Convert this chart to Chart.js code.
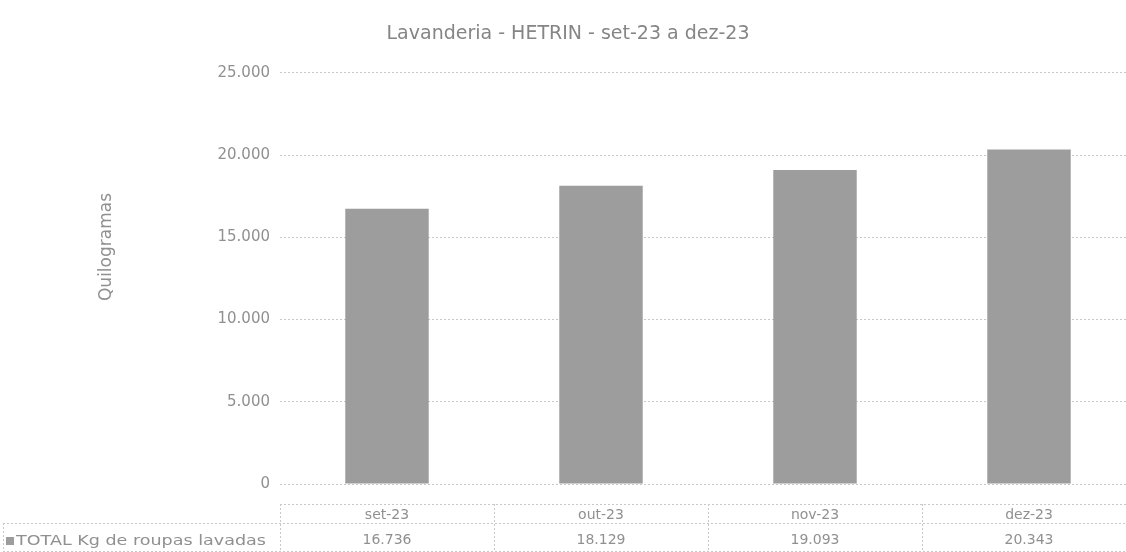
<!DOCTYPE html>
<html>
<head>
<meta charset="utf-8">
<script src="https://cdn.jsdelivr.net/npm/chart.js@4"></script>
<style>
  html, body { margin: 0; padding: 0; background: #fff; overflow: hidden; }
  #wrap { width: 1136px; height: 552px; }
</style>
</head>
<body>
<div id="wrap"><canvas id="laundryChart" width="1136" height="552"></canvas></div>
<script>
// dados do gráfico
const months = ['set-23', 'out-23', 'nov-23', 'dez-23'];
const kgWashed = [16736, 18129, 19093, 20343];
const seriesName = 'TOTAL Kg de roupas lavadas';
const yTicks = [0, 5000, 10000, 15000, 20000, 25000];

const textGray = '#909090';
const lineGray = '#c8c8c8';
const barGray = '#9d9d9d';

function fmt(v) {
    return v.toLocaleString('pt-BR');
}

// desenha a tabela de dados e o título do eixo Y
const dataTablePlugin = {
    id: 'dataTable',
    afterDraw(chart) {
        const ctx = chart.ctx;
        const x = chart.scales.x;
        const area = chart.chartArea;
        const catW = x.getPixelForValue(1) - x.getPixelForValue(0);
        const top = 504, mid = 523, bottom = 551;

        ctx.save();
        ctx.strokeStyle = lineGray;
        ctx.lineWidth = 1;
        ctx.setLineDash([2, 2]);

        ctx.beginPath();
        // linhas horizontais da tabela
        ctx.moveTo(area.left, top + 0.5); ctx.lineTo(area.right, top + 0.5);
        ctx.moveTo(3, mid + 0.5); ctx.lineTo(area.right, mid + 0.5);
        ctx.moveTo(3, bottom + 0.5); ctx.lineTo(area.right, bottom + 0.5);
        // linhas verticais
        for (let i = 0; i <= months.length; i++) {
            const px = Math.round(x.getPixelForValue(0) - catW / 2 + i * catW) + 0.5;
            ctx.moveTo(px, top); ctx.lineTo(px, bottom);
        }
        ctx.moveTo(3.5, mid); ctx.lineTo(3.5, bottom);
        ctx.stroke();
        ctx.setLineDash([]);

        // legenda da série
        ctx.fillStyle = barGray;
        ctx.fillRect(6, 537, 8, 8);
        ctx.fillStyle = textGray;
        ctx.font = '14px "DejaVu Sans", sans-serif';
        ctx.textBaseline = 'middle';
        ctx.textAlign = 'left';
        const w = ctx.measureText(seriesName).width;
        ctx.save();
        ctx.translate(16, 541);
        ctx.scale(250 / w, 1);
        ctx.fillText(seriesName, 0, 0);
        ctx.restore();

        // título do eixo Y
        ctx.font = '17px "DejaVu Sans", sans-serif';
        ctx.translate(107, 247);
        ctx.rotate(-Math.PI / 2);
        ctx.textAlign = 'center';
        ctx.fillText('Quilogramas', 0, 0);
        ctx.restore();
    }
};

new Chart(document.getElementById('laundryChart'), {
    type: 'bar',
    data: {
        labels: months.map((m, i) => [m, fmt(kgWashed[i])]),
        datasets: [{
            label: seriesName,
            data: kgWashed,
            backgroundColor: barGray,
            borderWidth: 0,
            barPercentage: 0.39,
            categoryPercentage: 1
        }]
    },
    options: {
        responsive: false,
        animation: false,
        layout: { padding: { left: 0, right: 0, top: 0, bottom: 0 } },
        plugins: {
            legend: { display: false },
            tooltip: { enabled: false },
            title: {
                display: true,
                text: 'Lavanderia - HETRIN - set-23 a dez-23',
                color: '#858585',
                font: { family: '"DejaVu Sans", sans-serif', size: 19, weight: 'normal' },
                padding: { top: 23, bottom: 27 }
            }
        },
        scales: {
            y: {
                min: 0,
                max: 25000,
                afterBuildTicks: (scale) => { scale.ticks = yTicks.map(v => ({ value: v })); },
                afterFit: (scale) => { scale.width = 280; },
                ticks: {
                    color: textGray,
                    padding: 10,
                    font: { family: '"DejaVu Sans", sans-serif', size: 15 },
                    callback: (v) => fmt(v)
                },
                grid: {
                    color: lineGray,
                    drawTicks: false
                },
                border: { display: false, dash: [2, 2] }
            },
            x: {
                afterFit: (scale) => { scale.height = 68; },
                ticks: {
                    color: textGray,
                    padding: 11,
                    font: { family: '"DejaVu Sans", sans-serif', size: 14, lineHeight: 1.78 },
                    maxRotation: 0
                },
                grid: { display: false },
                border: { display: false }
            }
        }
    },
    plugins: [dataTablePlugin]
});
</script>
</body>
</html>
